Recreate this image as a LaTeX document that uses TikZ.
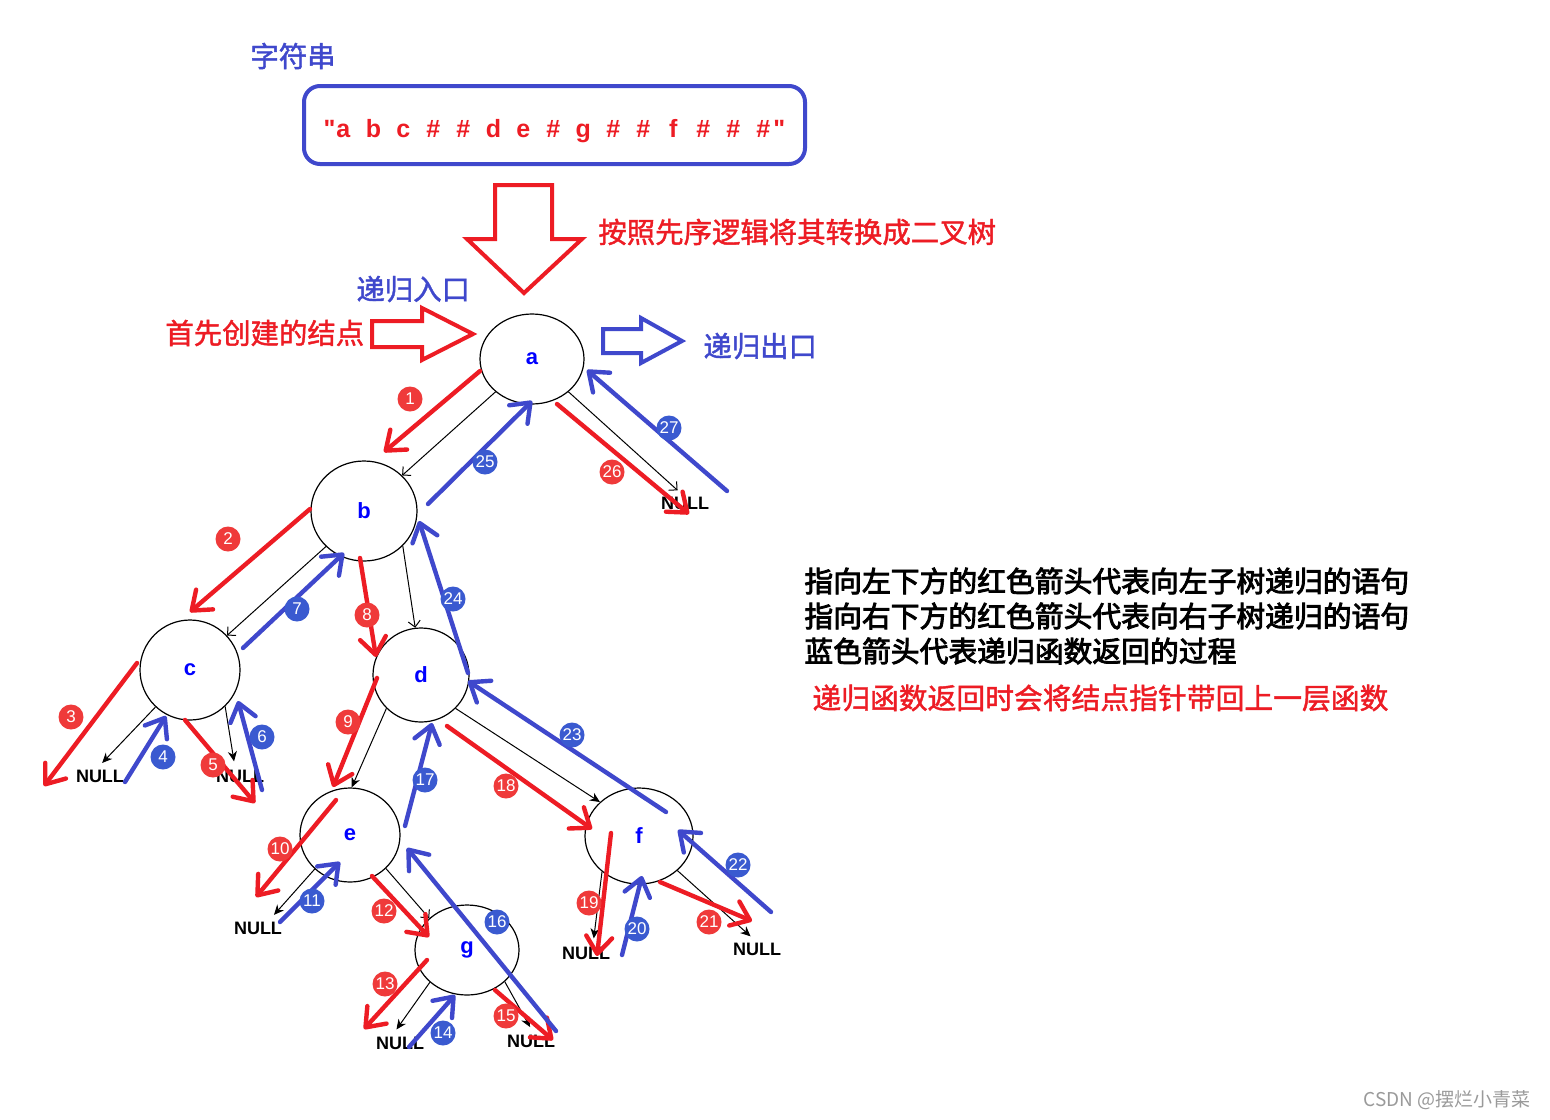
\documentclass[tikz,border=0pt]{standalone}
\usepackage{fontspec}
\usetikzlibrary{shapes.geometric,arrows.meta}
\setmainfont{Liberation Sans}
\setsansfont{Liberation Sans}
\newfontfamily\strfont[Ligatures=TeXOff]{Liberation Sans}
\newfontfamily\cjk[FakeBold=1.5]{Noto Sans CJK SC}
\newfontfamily\cjkdark[FakeBold=3]{Noto Sans CJK SC}
\newfontfamily\cjkplain{Noto Sans CJK SC}
\definecolor{lineblue}{HTML}{3F48CC}
\definecolor{linered}{HTML}{ED1C24}
\definecolor{badgered}{HTML}{EF3A3A}
\definecolor{badgeblue}{HTML}{3A5AD0}
\definecolor{letterblue}{HTML}{0000FF}
\definecolor{wmgray}{HTML}{9A9A9A}
\newcommand{\chbox}[1]{\makebox[15pt]{#1}}

\begin{document}
\begin{tikzpicture}[x=0.5pt,y=-0.5pt,
  treenode/.style={draw=black, line width=0.6pt, ellipse, inner sep=0pt, text=letterblue, font=\sffamily\bfseries\fontsize{11}{13}\selectfont},
  nulltext/.style={inner sep=1pt, font=\sffamily\bfseries\fontsize{9}{11}\selectfont},
  edgeclosed/.style={line width=0.5pt, -{Stealth[length=5pt,width=4.5pt]}},
  edgeopen/.style={line width=0.5pt, -{Straight Barb[length=3pt,width=6pt]}},
  tonull/.style={shorten >=3pt},
  redarrow/.style={draw=linered, line width=2.2pt, line cap=round, -{Straight Barb[length=8.5pt,width=13pt,round]}},
  bluearrow/.style={draw=lineblue, line width=2.2pt, line cap=round, -{Straight Barb[length=8.5pt,width=13pt,round]}},
  redbadge/.style={circle, fill=badgered, text=white, minimum size=12.5pt, inner sep=0pt, font=\sffamily\fontsize{8.5}{9}\selectfont},
  bluebadge/.style={circle, fill=badgeblue, text=white, minimum size=12.5pt, inner sep=0pt, font=\sffamily\fontsize{8.5}{9}\selectfont},
  cjktext/.style={inner sep=0pt, anchor=west, font=\cjk\fontsize{14.2}{16}\selectfont},
  legendtext/.style={inner sep=0pt, anchor=west, font=\cjkdark\fontsize{14.4}{16}\selectfont},
  hollow/.style={line width=2pt, line join=miter},
]
\useasboundingbox[fill=white] (0,0) rectangle (1550,1119);

% ---- top: string ----
\node[cjktext, text=lineblue] (title) at (250,56) {字符串};
\node[draw=lineblue, line width=2pt, rounded corners=8pt, minimum width=250.5pt, minimum height=39pt, inner sep=0pt] (strbox) at (554.5,125) {};
\node[anchor=base west, inner sep=0pt, text=linered, font=\strfont\bfseries\fontsize{12.5}{14}\selectfont] (strtext) at (328,137)
  {\makebox[0pt][r]{"\kern-3.5pt}\chbox{a}\chbox{b}\chbox{c}\chbox{\#}\chbox{\#}\chbox{d}\chbox{e}\chbox{\#}\chbox{g}\chbox{\#}\chbox{\#}\chbox{f}\chbox{\#}\chbox{\#}\chbox{\#}\kern-2.5pt"};

% big hollow arrows
\draw[hollow, draw=linered] (495,185) -- (552,185) -- (552,239) -- (582,239) -- (524,293) -- (467,239) -- (495,239) -- cycle;
\draw[hollow, draw=linered] (372,321) -- (422,321) -- (422,308) -- (473,334) -- (422,360) -- (422,347) -- (372,347) -- cycle;
\draw[hollow, draw=lineblue] (603,329) -- (641,329) -- (641,318) -- (682,341) -- (641,363) -- (641,353) -- (603,353) -- cycle;

\node[cjktext, text=linered] (convert) at (598,232) {按照先序逻辑将其转换成二叉树};
\node[cjktext, text=lineblue] (entry) at (356,289) {递归入口};
\node[cjktext, text=linered] (first) at (165,333) {首先创建的结点};
\node[cjktext, text=lineblue] (exit) at (703,346) {递归出口};

% legend
\node[legendtext] (leg1) at (804,581) {指向左下方的红色箭头代表向左子树递归的语句};
\node[legendtext] (leg2) at (804,616) {指向右下方的红色箭头代表向右子树递归的语句};
\node[legendtext] (leg3) at (804,651) {蓝色箭头代表递归函数返回的过程};
\node[cjktext, text=linered, font=\cjk\fontsize{14.4}{16}\selectfont] (leg4) at (812,698) {递归函数返回时会将结点指针带回上一层函数};

\node[cjktext, text=wmgray, font=\cjkplain\fontsize{9.5}{11}\selectfont] (wm) at (1363,1100) {CSDN @摆烂小青菜};

% ---- tree nodes ----
\node[treenode, minimum width=52pt, minimum height=45pt] (a) at (532,359) {a};
\node[treenode, minimum width=53pt, minimum height=50pt] (b) at (364,511) {b};
\node[treenode, minimum width=50pt, minimum height=50pt] (c) at (190,670) {c};
\node[treenode, minimum width=48pt, minimum height=47pt] (d) at (421,675) {d};
\node[treenode, minimum width=50pt, minimum height=47pt] (e) at (350,835) {e};
\node[treenode, minimum width=54pt, minimum height=48pt] (f) at (639,836) {f};
\node[treenode, minimum width=52pt, minimum height=45pt] (g) at (467,950) {g};

\node[nulltext] (nA) at (685,503) {NULL};
\node[nulltext] (nC1) at (100,776) {NULL};
\node[nulltext] (nC2) at (240,776) {NULL};
\node[nulltext] (nE) at (258,928) {NULL};
\node[nulltext] (nG1) at (400,1043) {NULL};
\node[nulltext] (nG2) at (531,1041) {NULL};
\node[nulltext] (nF1) at (586,953) {NULL};
\node[nulltext] (nF2) at (757,949) {NULL};

% ---- tree edges ----
\draw[edgeopen] (a.222) -- (b.43);
\draw[edgeopen, tonull] (a.318) -- ([xshift=-1.5pt]nA.north);
\draw[edgeopen] (b.223) -- (c.43);
\draw[edgeopen] (b.318) -- (d.97);
\draw[edgeclosed, tonull] (c.227) -- ([xshift=-1pt]nC1.north);
\draw[edgeclosed, tonull] (c.314) -- ([xshift=-2.5pt]nC2.north);
\draw[edgeclosed] (d.224) -- (e.88);
\draw[edgeclosed] (d.316) -- (f.139);
\draw[edgeclosed, tonull] (e.224) -- ([xshift=6pt]nE.north);
\draw[edgeopen] (e.317) -- (g.140);
\draw[edgeclosed, tonull] (g.221) -- ([xshift=-3.5pt]nG1.north);
\draw[edgeclosed, tonull] (g.320) -- ([xshift=1pt]nG2.north);
\draw[edgeclosed, tonull] (f.224) -- ([xshift=3.5pt]nF1.north);
\draw[edgeclosed, tonull] (f.318) -- ([xshift=-1pt]nF2.north);

% ---- red recursion arrows ----
\foreach \n/\sx/\sy/\ex/\ey in {1/480/371/384/452, 2/310/509/190/612, 3/137/663/44/786, 5/185/720/255/803,
  8/360/558/376/657, 9/377/678/333/787, 10/336/800/256/897, 12/372/876/429/937, 13/427/960/364/1029,
  15/495/990/553/1040, 18/447/726/592/829, 19/611/833/597/956, 21/660/882/752/921, 26/557/404/689/514} {
  \coordinate (rs\n) at (\sx,\sy);
  \coordinate (re\n) at (\ex,\ey);
  \draw[redarrow] (rs\n) -- (re\n);
}
% ---- blue return arrows ----
\foreach \n/\sx/\sy/\ex/\ey in {4/125/782/166/716, 6/262/790/238/701, 7/243/648/344/553, 11/280/922/340/862,
  14/409/1047/455/995, 16/556/1031/407/848, 17/405/826/432/723, 20/622/955/642/876, 22/771/912/678/830,
  23/666/812/468/681, 24/468/673/419/521, 25/428/504/532/401, 27/727/491/587/370} {
  \coordinate (bs\n) at (\sx,\sy);
  \coordinate (be\n) at (\ex,\ey);
  \draw[bluearrow] (bs\n) -- (be\n);
}

% ---- step badges ----
\foreach \n/\x/\y in {1/410/399, 2/228/539, 3/71/717, 5/213/765, 8/367/615, 9/348/722, 10/280/849,
  12/384/911, 13/385/984, 15/506/1016, 18/506/786, 19/589/903, 21/709/922, 26/612/472} {
  \node[redbadge] (k\n) at (\x,\y) {\n};
}
\foreach \n/\x/\y in {4/163/757, 6/262/737, 7/297/609, 11/312/901, 14/443/1033, 16/497/922, 17/425/780,
  20/637/929, 22/738/865, 23/572/735, 24/453/599, 25/485/462, 27/669/428} {
  \node[bluebadge] (k\n) at (\x,\y) {\n};
}
\end{tikzpicture}
\end{document}
